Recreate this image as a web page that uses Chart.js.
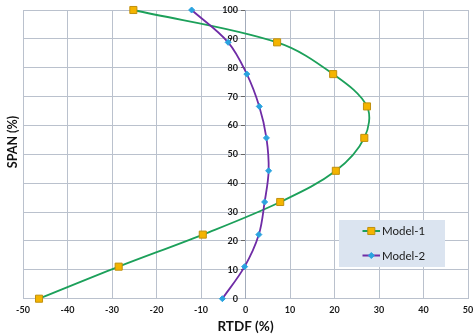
<!DOCTYPE html>
<html>
<head>
<meta charset="utf-8">
<script src="https://cdn.jsdelivr.net/npm/chart.js@4/dist/chart.umd.min.js"></script>
<style>
html,body{margin:0;padding:0;background:#fff;}
#c{display:block;}
</style>
</head>
<body>
<canvas id="c" width="474" height="336"></canvas>
<script>
// Data
const spanLevels = [100, 88.8, 77.8, 66.6, 55.7, 44.3, 33.5, 22.2, 11.1, 0];
const model1Rtdf = [-25.2, 7.1, 19.7, 27.3, 26.7, 20.3, 7.8, -9.6, -28.5, -46.4];
const model2Rtdf = [-12.1, -3.9, 0.3, 3.1, 4.7, 5.2, 4.3, 3.0, -0.2, -5.2];
const seriesNames = ['Model-1', 'Model-2'];
const xTitle = 'RTDF (%)';
const yTitle = 'SPAN (%)';

const toPoints = (xs, ys) => xs.map((x, i) => ({x: x, y: ys[i]}));

const GREEN = '#1ca05a';
const SQ_FILL = '#f4b400';
const SQ_BORDER = '#c0900e';
const PURPLE = '#6f2ca6';
const DIA = '#2aa3df';
const GRID = '#bac1cd';
const FONT = 'Lato, "Liberation Sans", Arial, sans-serif';

// shift y tick labels (axis placed at x = 0) to the left of the axis and its tick marks
const yLabelShift = {
  id: 'yLabelShift',
  beforeDraw(chart) {
    const items = chart.scales.y.getLabelItems();
    items.forEach(it => {
      if (!it._shifted) {
        it.options.translation[0] -= 7.5;
        it._shifted = true;
      }
    });
  }
};

const legendPlugin = {
  id: 'customLegend',
  afterDraw(chart) {
    const ctx = chart.ctx;
    ctx.save();
    ctx.fillStyle = '#dbe4f0';
    ctx.fillRect(339, 220, 106, 47);
    const items = [
      {y: 231, ds: chart.data.datasets[0]},
      {y: 255.5, ds: chart.data.datasets[1]}
    ];
    items.forEach(it => {
      const cx = 371.3;
      ctx.strokeStyle = it.ds.borderColor;
      ctx.lineWidth = 2;
      ctx.beginPath();
      ctx.moveTo(362.5, it.y);
      ctx.lineTo(380, it.y);
      ctx.stroke();
      ctx.fillStyle = it.ds.pointBackgroundColor;
      ctx.strokeStyle = it.ds.pointBorderColor;
      ctx.lineWidth = it.ds.pointBorderWidth;
      ctx.beginPath();
      if (it.ds.pointStyle === 'rect') {
        const s = Math.SQRT1_2 * it.ds.pointRadius;
        ctx.rect(cx - s, it.y - s, 2 * s, 2 * s);
      } else {
        const r = it.ds.pointRadius;
        ctx.moveTo(cx - r, it.y);
        ctx.lineTo(cx, it.y - r);
        ctx.lineTo(cx + r, it.y);
        ctx.lineTo(cx, it.y + r);
        ctx.closePath();
      }
      ctx.fill();
      ctx.stroke();
      ctx.fillStyle = '#1a1a1a';
      ctx.font = '11.5px ' + FONT;
      ctx.textAlign = 'left';
      ctx.textBaseline = 'middle';
      ctx.fillText(it.ds.label, 382, it.y + 0.5);
    });
    // y-axis title
    ctx.save();
    ctx.translate(13, 142);
    ctx.rotate(-Math.PI / 2);
    ctx.fillStyle = '#111';
    ctx.font = 'bold 12.5px ' + FONT;
    ctx.textAlign = 'center';
    ctx.textBaseline = 'middle';
    ctx.fillText(yTitle, 0, 0);
    ctx.restore();
    ctx.restore();
  }
};

new Chart(document.getElementById('c'), {
  type: 'scatter',
  data: {
    datasets: [
      {
        label: seriesNames[0],
        data: toPoints(model1Rtdf, spanLevels),
        showLine: true,
        borderColor: GREEN,
        borderWidth: 1.8,
        tension: 0.35,
        pointStyle: 'rect',
        pointRadius: 5,
        pointBackgroundColor: SQ_FILL,
        pointBorderColor: SQ_BORDER,
        pointBorderWidth: 1,
        clip: false,
        order: 1
      },
      {
        label: seriesNames[1],
        data: toPoints(model2Rtdf, spanLevels),
        showLine: true,
        borderColor: PURPLE,
        borderWidth: 1.8,
        tension: 0.35,
        pointStyle: 'rectRot',
        pointRadius: 3,
        pointBackgroundColor: DIA,
        pointBorderColor: DIA,
        pointBorderWidth: 1,
        clip: false,
        order: 0
      }
    ]
  },
  options: {
    responsive: false,
    animation: false,
    devicePixelRatio: 1,
    layout: {padding: {left: 23, right: 0, top: 10, bottom: 0}},
    plugins: {
      legend: {display: false},
      tooltip: {enabled: false}
    },
    scales: {
      x: {
        type: 'linear',
        position: 'bottom',
        min: -50, max: 50,
        ticks: {
          stepSize: 10,
          padding: 6,
          color: '#1a1a1a',
          font: {family: FONT, size: 9, weight: 'bold'}
        },
        grid: {color: GRID, lineWidth: 1, drawTicks: false},
        border: {color: GRID},
        title: {
          display: true,
          text: xTitle,
          color: '#111',
          font: {family: FONT, size: 13.5, weight: 'bold'},
          padding: {top: 0, bottom: 1}
        },
        afterFit(scale) {
          scale.height = 37.3;
          scale.paddingRight = 4.7;
          scale.paddingLeft = 0;
        }
      },
      y: {
        type: 'linear',
        position: {x: 0},
        min: 0, max: 100,
        ticks: {
          stepSize: 10,
          padding: 2,
          color: '#1a1a1a',
          font: {family: FONT, size: 9, weight: 'bold'}
        },
        grid: {color: GRID, lineWidth: 1, tickLength: 4, tickColor: '#666'},
        border: {color: '#a3acbb'}
      }
    }
  },
  plugins: [yLabelShift, legendPlugin]
});
</script>
</body>
</html>
